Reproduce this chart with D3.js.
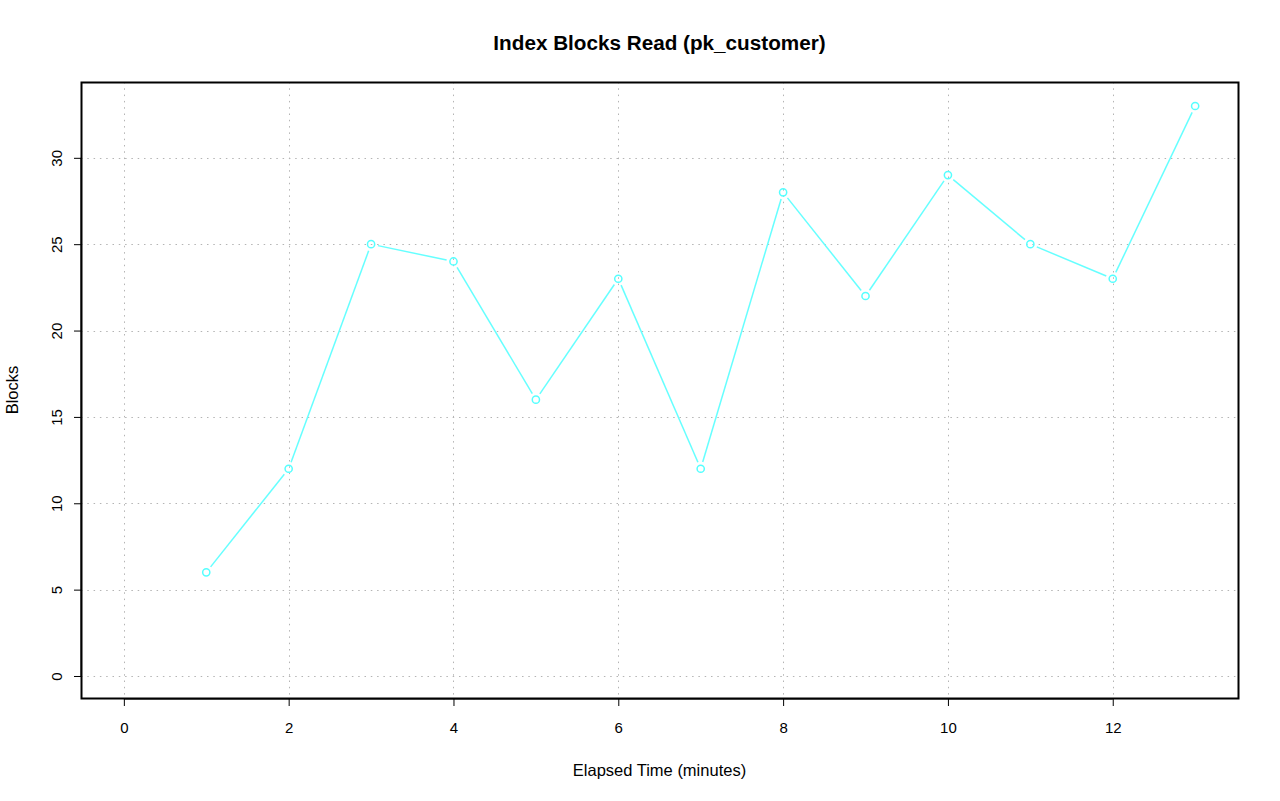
<!DOCTYPE html>
<html>
<head>
<meta charset="utf-8">
<script src="https://cdn.jsdelivr.net/npm/d3@7"></script>
<style>
  body { margin: 0; background: #fff; }
  text { font-family: "Liberation Sans", Arial, sans-serif; fill: #000; }
</style>
</head>
<body>
<svg width="1280" height="801"></svg>
<script>
var minutes = [1, 2, 3, 4, 5, 6, 7, 8, 9, 10, 11, 12, 13];
var blocks = [6, 12, 25, 24, 16, 23, 12, 28, 22, 29, 25, 23, 33];
var xTicks = [0, 2, 4, 6, 8, 10, 12];
var yTicks = [0, 5, 10, 15, 20, 25, 30];

var svg = d3.select("svg"),
  plotLeft = 81, plotRight = 1238, plotTop = 82, plotBottom = 698;

// R pads the range by 4% on each side
var x = d3.scaleLinear().domain([-0.52, 13.52]).range([plotLeft, plotRight]);
var y = d3.scaleLinear().domain([-1.274, 34.39]).range([plotBottom, plotTop]);

// dotted grid
var grid = svg.append("g")
  .attr("stroke", "#b4b4b4")
  .attr("stroke-width", 1)
  .attr("stroke-dasharray", "1.5,4.8");

grid.selectAll(".gx").data(xTicks).enter().append("line")
  .attr("x1", function (d) { return Math.round(x(d)) + 0.5; })
  .attr("x2", function (d) { return Math.round(x(d)) + 0.5; })
  .attr("y1", plotTop).attr("y2", plotBottom);

grid.selectAll(".gy").data(yTicks).enter().append("line")
  .attr("y1", function (d) { return Math.round(y(d)) + 0.5; })
  .attr("y2", function (d) { return Math.round(y(d)) + 0.5; })
  .attr("x1", plotLeft).attr("x2", plotRight);

// line segments with gaps around points (type = "b")
var pts = minutes.map(function (m, i) { return [x(m), y(blocks[i])]; });
var gap = 7;
var segs = [];
for (var i = 0; i < pts.length - 1; i++) {
  var a = pts[i], b = pts[i + 1];
  var dx = b[0] - a[0], dy = b[1] - a[1];
  var len = Math.sqrt(dx * dx + dy * dy);
  if (len > 2 * gap) {
    segs.push([a[0] + dx / len * gap, a[1] + dy / len * gap,
      b[0] - dx / len * gap, b[1] - dy / len * gap]);
  }
}

svg.append("g").selectAll("line").data(segs).enter().append("line")
  .attr("x1", function (d) { return d[0]; })
  .attr("y1", function (d) { return d[1]; })
  .attr("x2", function (d) { return d[2]; })
  .attr("y2", function (d) { return d[3]; })
  .attr("stroke", "#66ffff")
  .attr("stroke-width", 1.5);

svg.append("g").selectAll("circle").data(pts).enter().append("circle")
  .attr("cx", function (d) { return d[0]; })
  .attr("cy", function (d) { return d[1]; })
  .attr("r", 3.6)
  .attr("fill", "none")
  .attr("stroke", "#55ffff")
  .attr("stroke-width", 1.5);

// box
svg.append("rect")
  .attr("x", plotLeft + 0.5).attr("y", plotTop + 0.5)
  .attr("width", plotRight - plotLeft).attr("height", plotBottom - plotTop)
  .attr("fill", "none").attr("stroke", "#000").attr("stroke-width", 2);

// axes
var xAxis = d3.axisBottom(x).tickValues(xTicks).tickSize(7).tickPadding(16);
svg.append("g")
  .attr("transform", "translate(0," + (plotBottom + 1) + ")")
  .call(xAxis)
  .call(function (g) {
    g.select(".domain").attr("d", "M" + x(0) + ",0H" + x(12)).attr("stroke-width", 1);
    g.selectAll("text").attr("font-size", 15).attr("font-family", "Liberation Sans, Arial, sans-serif");
  });

var yAxis = d3.axisLeft(y).tickValues(yTicks).tickSize(7).tickFormat(d3.format("d"));
svg.append("g")
  .attr("transform", "translate(" + plotLeft + ",0)")
  .call(yAxis)
  .call(function (g) {
    g.select(".domain").attr("d", "M0," + y(0) + "V" + y(30)).attr("stroke-width", 1);
    g.selectAll("text")
      .attr("font-size", 15)
      .attr("font-family", "Liberation Sans, Arial, sans-serif")
      .attr("x", function (d) { return -y(d); })
      .attr("y", -19)
      .attr("dy", "0")
      .attr("text-anchor", "middle")
      .attr("transform", function (d) { return "translate(0," + (-y(d)) + ") rotate(-90)"; });
  });

// titles
svg.append("text")
  .attr("x", (plotLeft + plotRight) / 2).attr("y", 50)
  .attr("text-anchor", "middle")
  .attr("font-size", 20.7).attr("font-weight", "bold")
  .text("Index Blocks Read (pk_customer)");

svg.append("text")
  .attr("x", (plotLeft + plotRight) / 2).attr("y", 776)
  .attr("text-anchor", "middle")
  .attr("font-size", 16.5)
  .text("Elapsed Time (minutes)");

svg.append("text")
  .attr("transform", "translate(18," + ((plotTop + plotBottom) / 2) + ") rotate(-90)")
  .attr("text-anchor", "middle")
  .attr("font-size", 16.5)
  .text("Blocks");
</script>
</body>
</html>
